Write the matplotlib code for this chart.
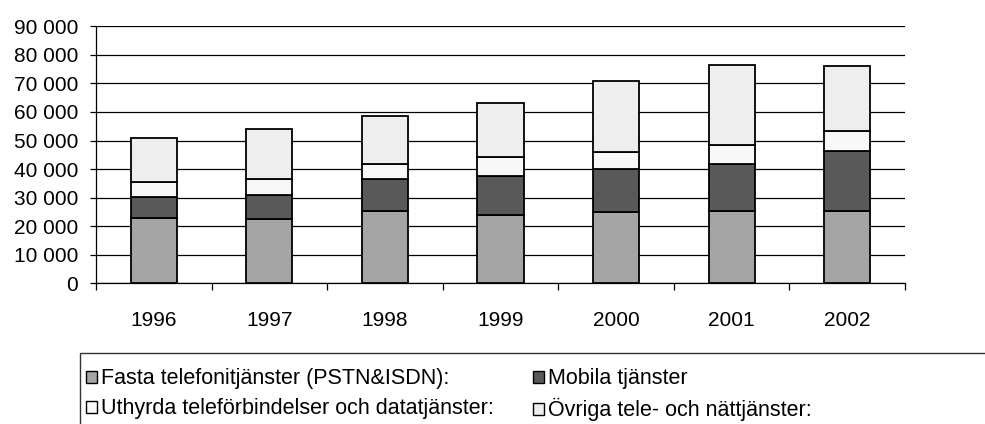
import numpy as np
import matplotlib.pyplot as plt
from matplotlib.patches import Patch, Rectangle

years = ['1996', '1997', '1998', '1999', '2000', '2001', '2002']
fasta = [23000, 22400, 25400, 23900, 24900, 25200, 25200]
mobila = [7300, 8400, 11000, 13700, 15000, 16700, 21000]
uthyrda = [5000, 5600, 5400, 6800, 6000, 6600, 7100]
ovriga = [15600, 17500, 16900, 18900, 25000, 28000, 22800]

labels = ['Fasta telefonitjänster (PSTN&ISDN):', 'Mobila tjänster',
          'Uthyrda teleförbindelser och datatjänster:', 'Övriga tele- och nättjänster:']
colors = ['#a5a5a5', '#595959', '#f8f8f8', '#eeeeee']

plt.rcParams['font.family'] = ['Liberation Sans', 'DejaVu Sans']

fig = plt.figure(figsize=(9.85, 4.24), dpi=100)
ax = fig.add_axes([96/985, 1-283.3/424, (905-96)/985, (283.3-26.3)/424])

x = np.arange(len(years))
bottom = np.zeros(len(years))
for vals, c in zip([fasta, mobila, uthyrda, ovriga], colors):
    ax.bar(x, vals, width=0.4, bottom=bottom, color=c, edgecolor='black', linewidth=1.3, zorder=3)
    bottom += np.array(vals)

ax.set_ylim(0, 90000)
ax.set_xlim(-0.5, len(years)-0.5)
ax.set_yticks(np.arange(0, 90001, 10000))
ax.set_yticklabels([f'{v:,}'.replace(',', ' ') for v in range(0, 90001, 10000)], fontsize=15)
ax.yaxis.grid(True, color='black', linewidth=0.9, zorder=0)
ax.set_axisbelow(True)

ax.set_xticks(np.arange(-0.5, len(years), 1))
ax.set_xticklabels([])
ax.set_xticks(x, minor=True)
ax.set_xticklabels(years, minor=True, fontsize=15)
ax.tick_params(axis='x', which='minor', length=0, pad=20)
ax.tick_params(axis='x', which='major', length=5, width=0.9, direction='out')
ax.tick_params(axis='y', length=4.3, width=0.9, direction='out', pad=8.6)

for s in ['top', 'right']:
    ax.spines[s].set_visible(False)
for s in ['left', 'bottom']:
    ax.spines[s].set_linewidth(0.9)

# legend frame (open at bottom / right like the reference)
fig.patches.append(Rectangle((80/985, -0.1), 1.0, 1-353/424+0.1, transform=fig.transFigure,
                             fill=False, edgecolor='#333333', linewidth=1.0))

handles = [Patch(facecolor=c, edgecolor='black', linewidth=1.0) for c in colors]
leg_kw = dict(loc='upper left', frameon=False, fontsize=15.5, handlelength=0.5,
              handleheight=0.5, handletextpad=0.2, labelspacing=0.42,
              borderpad=0.2, borderaxespad=0)
fig.legend([handles[0], handles[2]], [labels[0], labels[2]],
           bbox_to_anchor=(82/985, 1-364/424), **leg_kw)
fig.legend([handles[1], handles[3]], [labels[1], labels[3]],
           bbox_to_anchor=(529/985, 1-364/424), **leg_kw)

fig.savefig('out.png', dpi=100)
